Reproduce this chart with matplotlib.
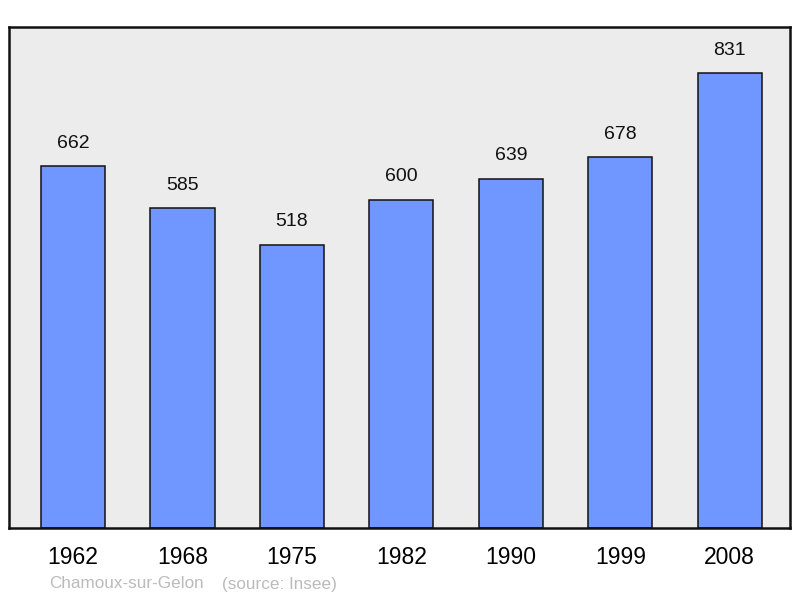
import matplotlib.pyplot as plt

plt.rcParams['font.family'] = ['Liberation Sans', 'DejaVu Sans']

years = ['1962', '1968', '1975', '1982', '1990', '1999', '2008']
population = [662, 585, 518, 600, 639, 678, 831]
town = 'Chamoux-sur-Gelon'
source = '(source: Insee)'

fig = plt.figure(figsize=(8, 5.98), dpi=100)
ax = fig.add_axes([9 / 800, 70 / 598, 781 / 800, 501 / 598])
ax.set_facecolor('#ececec')

x = range(len(years))
ax.bar(x, population, width=0.585, color='#7096ff', edgecolor='#111111',
       linewidth=1.1, zorder=2)
for i, v in zip(x, population):
    ax.annotate(str(v), (i, v), xytext=(0, 16.5), textcoords='offset points',
                ha='center', va='center', fontsize=14, color='#111111')

ax.set_xlim(-0.585, 6.55)
ax.set_ylim(0, 916)
ax.set_yticks([])
ax.set_xticks(list(x))
ax.set_xticklabels(years, fontsize=16.5)
ax.tick_params(axis='x', length=0, pad=13)
for s in ax.spines.values():
    s.set_linewidth(1.8)
    s.set_color('#111111')

fig.text(49 / 800, 1 - 584 / 598, town, fontsize=12.3, color='#bbbbbb', va='center')
fig.text(222 / 800, 1 - 584 / 598, source, fontsize=12.3, color='#bbbbbb', va='center')

fig.savefig('out.png', dpi=100)
